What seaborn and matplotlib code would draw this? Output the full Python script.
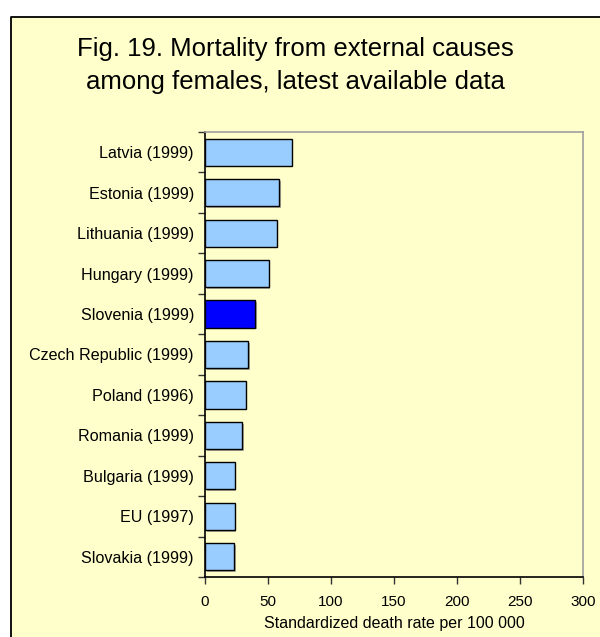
import matplotlib
matplotlib.use("Agg")
import matplotlib.pyplot as plt
import matplotlib.patheffects as pe
from matplotlib.patches import Rectangle
from matplotlib.lines import Line2D
from matplotlib.ticker import FixedLocator
import seaborn as sns
import pandas as pd

countries = ["Latvia (1999)", "Estonia (1999)", "Lithuania (1999)", "Hungary (1999)",
             "Slovenia (1999)", "Czech Republic (1999)", "Poland (1996)", "Romania (1999)",
             "Bulgaria (1999)", "EU (1997)", "Slovakia (1999)"]
rates = [68.9, 58.6, 56.8, 50.4, 39.6, 34.3, 32.2, 29.5, 23.6, 23.5, 22.9]
highlight = "Slovenia (1999)"
x_ticks = [0, 50, 100, 150, 200, 250, 300]

sns.set_theme(style="white")
plt.rcParams["font.family"] = ["Liberation Sans", "DejaVu Sans"]

df = pd.DataFrame({"country": countries, "rate": rates})
palette = {c: ("#0000FF" if c == highlight else "#99CCFF") for c in countries}

fig = plt.figure(figsize=(6.0, 6.37), dpi=100, facecolor="white")

# Chart-area panel, framed on the top and left edges
x0, y1 = 11 / 600, 1 - 17 / 637
fig.patches.append(Rectangle((x0, 0), 1 - x0, y1, transform=fig.transFigure,
                             facecolor="#FFFFCC", edgecolor="none", zorder=-5))
fig.lines.append(Line2D([x0, x0, 1], [0, y1, y1], transform=fig.transFigure,
                        color="black", linewidth=1.3, zorder=-4))

ax = fig.add_axes([205 / 600, (637 - 577) / 637, 378 / 600, 445 / 637])
ax.set_zorder(2)
ax.set_facecolor("#FFFFCC")

sns.barplot(data=df, x="rate", y="country", hue="country", palette=palette,
            order=countries, hue_order=countries, legend=False, width=0.67,
            edgecolor="black", linewidth=1.0, saturation=1, ax=ax)

for bar in ax.patches:
    bar.set_path_effects([pe.SimplePatchShadow(offset=(1.2, -1.2), shadow_rgbFace="#777777", alpha=0.6),
                          pe.Normal()])

ax.set_xlim(0, 300)
ax.set_ylim(len(countries) - 0.5, -0.5)
ax.set_xticks(x_ticks)
ax.set_xticklabels([str(t) for t in x_ticks], fontsize=11)
ax.yaxis.set_minor_locator(FixedLocator([i - 0.5 for i in range(len(countries) + 1)]))
ax.tick_params(axis="y", which="major", length=0, pad=8, labelsize=11.6)
ax.tick_params(axis="y", which="minor", length=5, width=1, color="#333333", direction="out", left=True)
ax.tick_params(axis="x", which="major", length=5, width=1, color="#333333", direction="out",
               bottom=True, pad=8)
for lbl in ax.get_yticklabels():
    lbl.set_color("black")
for lbl in ax.get_xticklabels():
    lbl.set_color("black")

ax.set_ylabel("")
ax.set_xlabel("Standardized death rate per 100 000", fontsize=11.5, color="black", labelpad=5)

for side in ["left", "bottom"]:
    ax.spines[side].set_color("black")
    ax.spines[side].set_linewidth(1.2)
for side in ["top", "right"]:
    ax.spines[side].set_color("#A0A0A0")
    ax.spines[side].set_linewidth(1.2)
    ax.spines[side].set_visible(True)

fig.text(295 / 600, 1 - 49 / 637, "Fig. 19. Mortality from external causes",
         ha="center", va="center", fontsize=18.5, color="black")
fig.text(295 / 600, 1 - 82 / 637, "among females, latest available data",
         ha="center", va="center", fontsize=18.5, color="black")

fig.savefig("out.png", dpi=100, facecolor=fig.get_facecolor())
